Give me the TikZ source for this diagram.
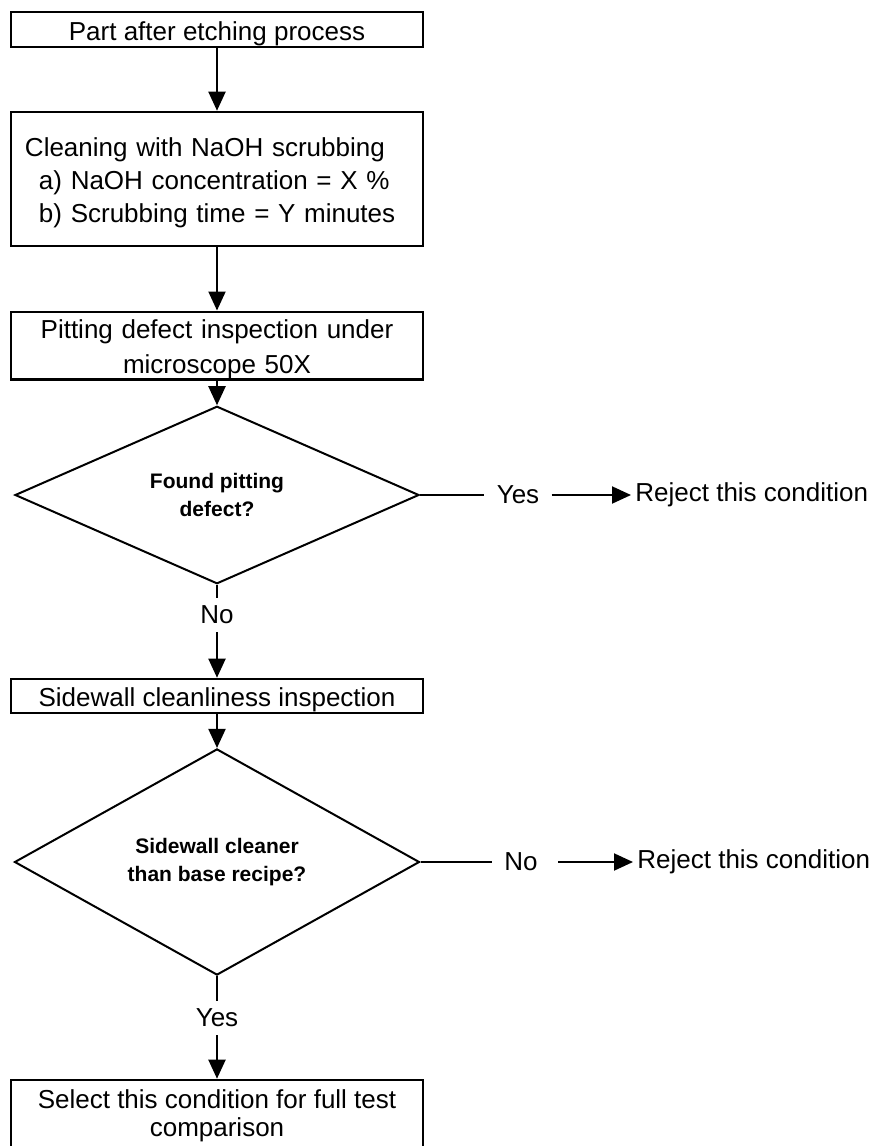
\documentclass[tikz,border=0pt]{standalone}
\usepackage{fontspec}
\setmainfont{Liberation Sans}
\usetikzlibrary{shapes.geometric, arrows.meta}

\tikzset{
  procbox/.style={draw, line width=1.3pt, minimum width=206pt, inner sep=0pt,
    font=\fontsize{13}{16.5}\selectfont, align=center,
    execute at begin node=\rule{0pt}{13.5pt}},
  decbox/.style={draw, diamond, line width=1pt, inner sep=0pt,
    font=\fontsize{10.5}{14}\selectfont\bfseries, align=center},
  flow/.style={line width=1pt, -{Triangle[length=9.5pt,width=8.5pt]}},
  link/.style={line width=1pt},
  lbl/.style={font=\fontsize{13}{16}\selectfont, inner xsep=6pt, inner ysep=4pt}
}

\begin{document}
\begin{tikzpicture}[x=0.5pt, y=-0.5pt]
\useasboundingbox (0,0) rectangle (877,1146);
%% process boxes
\node[procbox, minimum height=17.5pt] (etch) at (217,29.5) {Part after etching process};
\node[procbox, minimum height=67pt, text width=192pt, align=left] (clean) at (217,179)
  {Cleaning with NaOH scrubbing\\
   \hspace*{7pt}a) NaOH concentration = X \%\\
   \hspace*{7pt}b) Scrubbing time = Y minutes};
\node[procbox, minimum height=33.5pt, text width=200pt, font=\fontsize{13}{17.5}\selectfont] (pit) at (217,345.5)
  {Pitting defect inspection under\\ microscope 50X};
\node[procbox, minimum height=17pt] (side) at (217,696) {Sidewall cleanliness inspection};
\node[procbox, minimum height=36pt, font=\fontsize{13}{14}\selectfont,
  execute at begin node={}] (select) at (217,1116)
  {Select this condition for full test\\ comparison};
%% decisions
\node[decbox, minimum width=202pt, minimum height=64pt] (found) at (217,495) {Found pitting\\ defect?};
\node[decbox, minimum width=202.5pt, minimum height=96.5pt] (cleaner) at (217,862) {Sidewall cleaner\\ than base recipe?};
%% labels
\node[lbl] (yes1) at (518,495) {Yes};
\node[lbl, anchor=west, inner xsep=2pt] (rej1) at (631,495) {Reject this condition};
\node[lbl] (no1) at (217,615) {No};
\node[lbl] (no2) at (521,862) {No};
\node[lbl, anchor=west, inner xsep=2pt] (rej2) at (633,862) {Reject this condition};
\node[lbl] (yes2) at (217,1018) {Yes};
%% connectors
\draw[flow] (etch.south) -- (clean.north);
\draw[flow] (clean.south) -- (pit.north);
\draw[flow] (pit.south) -- (found.north);
\draw[link] (found.east) -- (yes1.west);
\draw[flow] (yes1.east) -- (rej1.west);
\draw[link] (found.south) -- (no1.north);
\draw[flow] (no1.south) -- (side.north);
\draw[flow] (side.south) -- (cleaner.north);
\draw[link] (cleaner.east) -- (no2.west);
\draw[flow] ([xshift=4pt]no2.east) -- (rej2.west);
\draw[link] (cleaner.south) -- (yes2.north);
\draw[flow] (yes2.south) -- (select.north);
\end{tikzpicture}
\end{document}
